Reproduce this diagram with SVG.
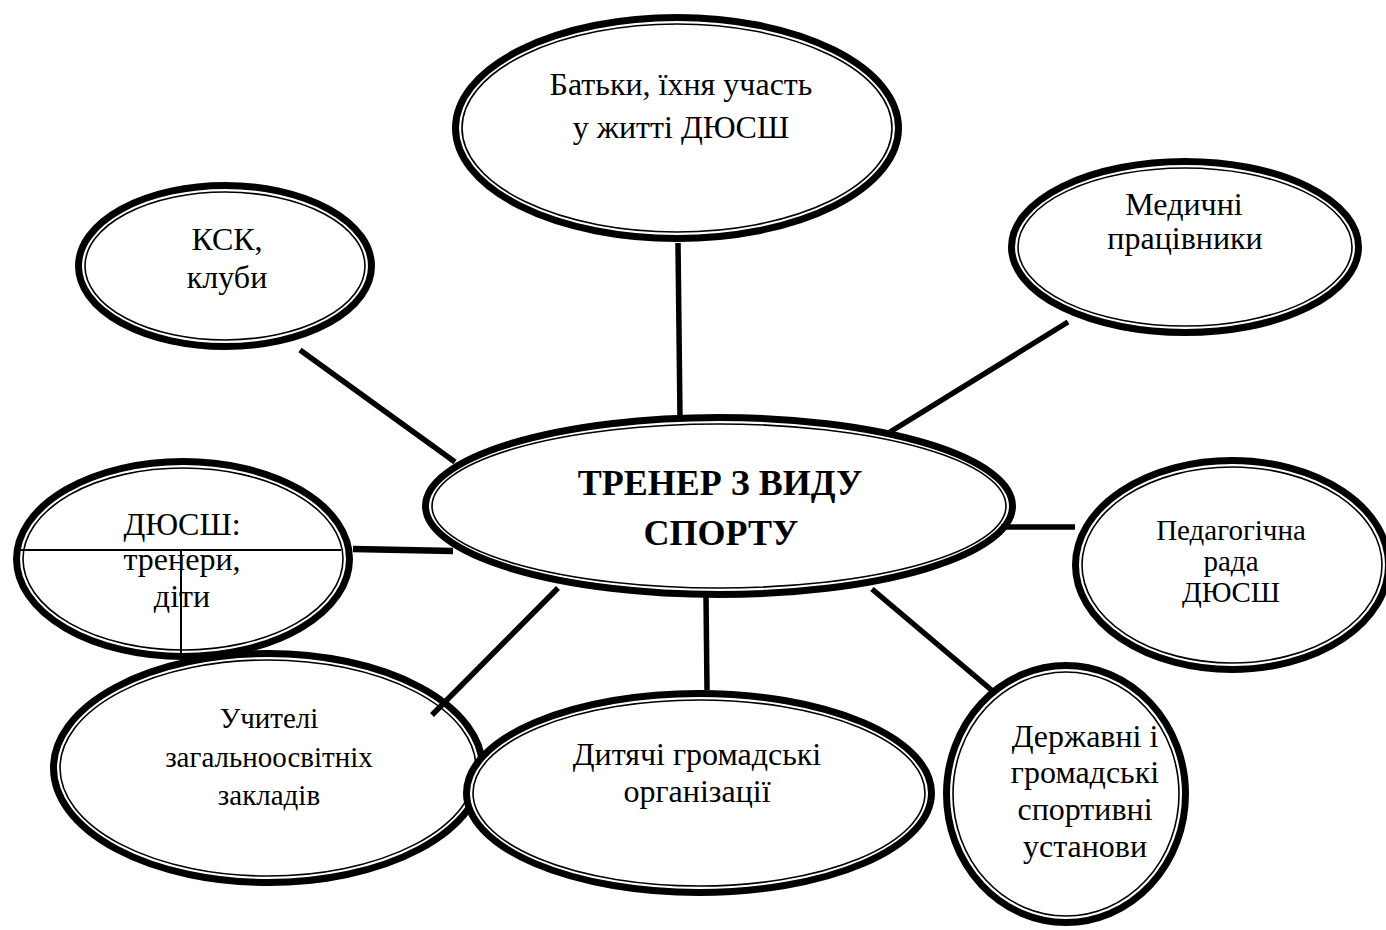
<svg xmlns="http://www.w3.org/2000/svg" width="1386" height="930" viewBox="0 0 1386 930">
<style>
.o{fill:#fff;stroke:#000;stroke-width:7}
.i{fill:none;stroke:#000;stroke-width:1.6}
.t{font-family:"Liberation Serif","Times New Roman",serif;font-size:32px;fill:#000;text-anchor:middle}
.s{font-size:29px}
.b{font-weight:bold;font-size:36px}
.c{stroke:#000;stroke-width:5.5;fill:none;stroke-linecap:butt}
.thin{stroke:#000;stroke-width:2;fill:none}
</style>
<rect width="1386" height="930" fill="#fff"/>
<g id="node-batky">
<ellipse class="o" cx="677" cy="128" rx="221.5" ry="110.5"/>
<ellipse class="i" cx="677" cy="128" rx="215" ry="104"/>
<text class="t" x="681" y="95">Батьки, їхня участь</text>
<text class="t" x="681" y="138">у житті ДЮСШ</text>
</g>
<g id="node-ksk">
<ellipse class="o" cx="225" cy="266" rx="146.5" ry="80.5"/>
<ellipse class="i" cx="225" cy="266" rx="140" ry="74"/>
<text class="t" x="227" y="250">КСК,</text>
<text class="t" x="227" y="288">клуби</text>
</g>
<g id="node-med">
<ellipse class="o" cx="1185" cy="247" rx="173.5" ry="85.5"/>
<ellipse class="i" cx="1185" cy="247" rx="167" ry="79"/>
<text class="t" x="1184" y="215">Медичні</text>
<text class="t" x="1185" y="249">працівники</text>
</g>
<g id="node-ped">
<ellipse class="o" cx="1232" cy="565" rx="156.5" ry="104.5"/>
<ellipse class="i" cx="1232" cy="565" rx="150" ry="98"/>
<text class="t s" x="1231" y="540">Педагогічна</text>
<text class="t s" x="1231" y="571">рада</text>
<text class="t s" x="1231" y="602">ДЮСШ</text>
</g>
<g id="node-dyussh">
<ellipse class="o" cx="183" cy="559" rx="166.5" ry="97.5"/>
<ellipse class="i" cx="183" cy="559" rx="160" ry="91"/>
<text class="t" x="182" y="535">ДЮСШ:</text>
<text class="t" x="182" y="570">тренери,</text>
<text class="t" x="182" y="607">діти</text>
<line class="thin" x1="20" y1="550" x2="341" y2="550"/>
<line class="thin" x1="181" y1="550" x2="181" y2="658"/>
</g>
<g id="node-derzh">
<ellipse class="o" cx="1066" cy="794" rx="119.5" ry="128.5"/>
<ellipse class="i" cx="1066" cy="794" rx="113" ry="122"/>
<text class="t" x="1085" y="747">Державні і</text>
<text class="t" x="1085" y="783">громадські</text>
<text class="t" x="1085" y="820">спортивні</text>
<text class="t" x="1085" y="857">установи</text>
</g>
<g id="node-uchyteli">
<ellipse class="o" cx="268" cy="768" rx="214.5" ry="114.5"/>
<ellipse class="i" cx="268" cy="768" rx="208" ry="108"/>
<text class="t s" x="269" y="728">Учителі</text>
<text class="t s" x="269" y="767">загальноосвітніх</text>
<text class="t s" x="269" y="805">закладів</text>
</g>
<g id="node-dytiachi">
<ellipse class="o" cx="699" cy="793" rx="232.5" ry="99.5"/>
<ellipse class="i" cx="699" cy="793" rx="226" ry="93"/>
<text class="t" x="697" y="765">Дитячі громадські</text>
<text class="t" x="697" y="802">організації</text>
</g>
<g id="node-center">
<ellipse class="o" cx="719" cy="506" rx="293.5" ry="88.5"/>
<ellipse class="i" cx="719" cy="506" rx="287" ry="82"/>
<text class="t b" x="720" y="495">ТРЕНЕР З ВИДУ</text>
<text class="t b" x="721" y="545">СПОРТУ</text>
</g>
<g id="connectors">
<line class="c" x1="678" y1="243" x2="680" y2="418"/>
<line class="c" x1="1068" y1="322" x2="890" y2="432"/>
<line class="c" x1="300" y1="350" x2="455" y2="462"/>
<line class="c" x1="353" y1="549" x2="453" y2="551" style="stroke-width:6.5"/>
<line class="c" x1="1001" y1="527" x2="1075" y2="527"/>
<line class="c" x1="558" y1="588" x2="432" y2="715"/>
<line class="c" x1="706" y1="596" x2="707" y2="690"/>
<line class="c" x1="872" y1="589" x2="995" y2="693"/>
</g>
</svg>
